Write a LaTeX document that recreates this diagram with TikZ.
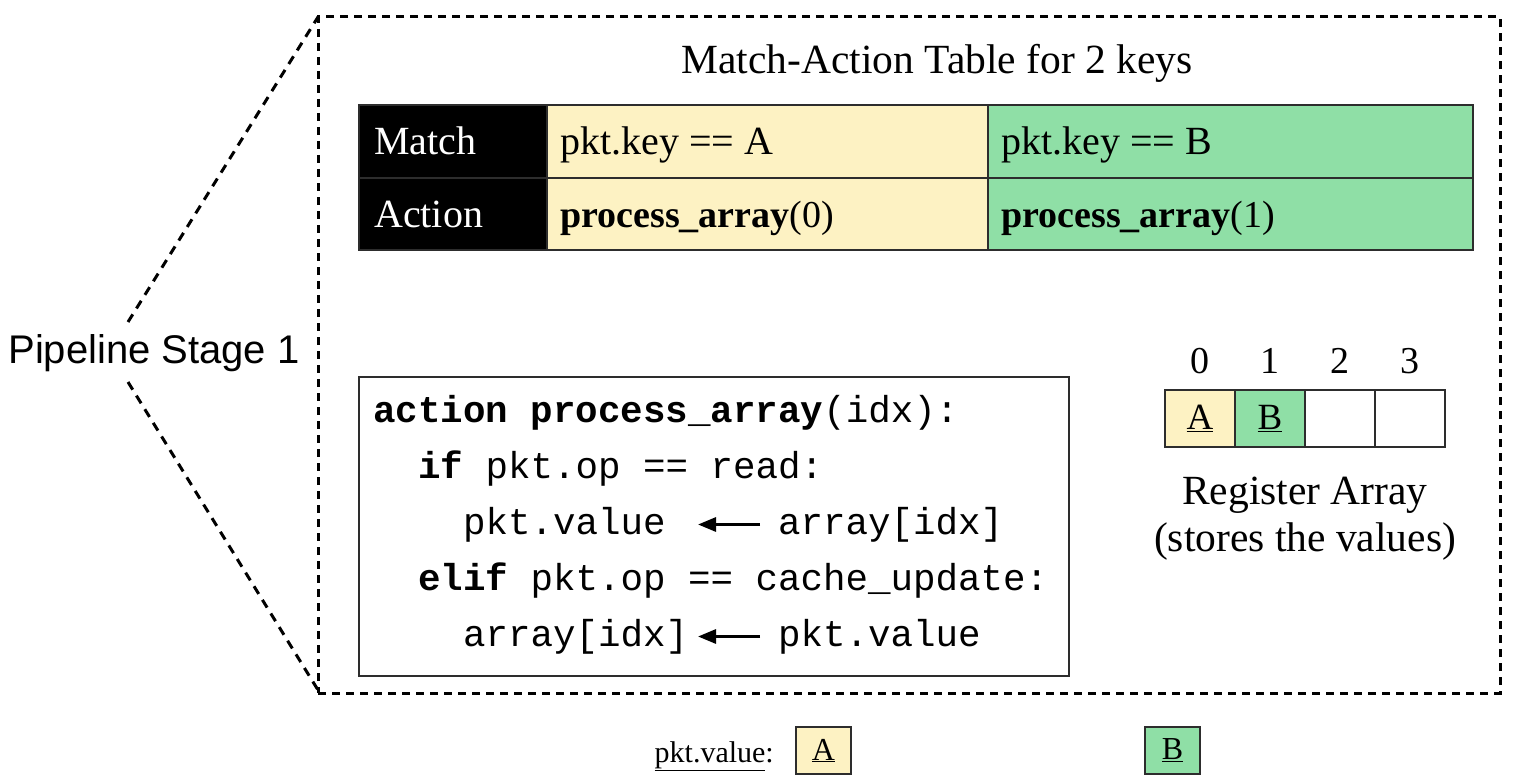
\documentclass[tikz,border=0pt]{standalone}
\usepackage{fontspec}
\setmainfont{Liberation Serif}
\newfontfamily\helv{Liberation Sans}
\newfontfamily\cour{Liberation Mono}
\usetikzlibrary{arrows.meta}
\definecolor{cellyellow}{RGB}{253,242,195}
\definecolor{cellgreen}{RGB}{143,223,166}
\definecolor{edgegray}{RGB}{45,45,45}
\begin{document}
\begin{tikzpicture}[x=1pt,y=-1pt,
  stagebox/.style={draw=black, line width=3pt, dash pattern=on 8pt off 6pt, minimum width=1182pt, minimum height=676pt, anchor=north west, inner sep=0pt, outer sep=0pt},
  diag/.style={line width=3pt, dash pattern=on 9pt off 7pt},
  tcell/.style={draw=edgegray, line width=2pt, minimum height=72.5pt, anchor=north west, inner sep=0pt, outer sep=0pt},
  tabtxt/.style={font=\fontsize{40}{48}\selectfont, anchor=base west, inner sep=0pt},
  acttxt/.style={font=\fontsize{38}{46}\selectfont, anchor=base west, inner sep=0pt},
  codebox/.style={draw=edgegray, line width=2pt, minimum width=710pt, minimum height=299pt, anchor=north west, inner sep=0pt, outer sep=0pt},
  codetxt/.style={font=\cour\fontsize{37.5}{45}\selectfont, anchor=base west, inner sep=0pt, text height=27pt, text depth=8pt},
  codearrow/.style={line width=3pt, -{Triangle[length=18pt,width=14pt]}},
  regcell/.style={draw=edgegray, line width=2pt, minimum width=70pt, minimum height=57pt, anchor=north west, inner sep=0pt, outer sep=0pt, font=\fontsize{37}{42}\selectfont},
  idxtxt/.style={font=\fontsize{38}{44}\selectfont, inner sep=0pt},
  bigtxt/.style={font=\fontsize{41.5}{49}\selectfont, inner sep=0pt},
  legbox/.style={draw=edgegray, line width=2pt, minimum width=55pt, minimum height=47pt, anchor=north west, inner sep=0pt, outer sep=0pt, font=\fontsize{32}{34}\selectfont}
]
\useasboundingbox (0,0) rectangle (1520,776);

% pipeline stage label and outer box
\node[font=\helv\fontsize{40}{48}\selectfont, inner sep=0pt] (pl) at (154,353) {Pipeline Stage 1};
\node[stagebox] (stage) at (318,17) {};
\coordinate (d1) at (128,322);
\coordinate (d2) at (128,382);
\draw[diag] (d1) -- (stage.north west);
\draw[diag] (d2) -- ([yshift=3pt]stage.south west);

% title
\node[bigtxt] (title) at (937,63) {Match-Action Table for 2 keys};

% table
\node[tcell, fill=black, minimum width=188pt] (m0) at (359,105) {};
\node[tcell, fill=black, minimum width=188pt] (a0) at (359,177.5) {};
\node[tcell, fill=cellyellow, minimum width=441pt] (m1) at (547,105) {};
\node[tcell, fill=cellyellow, minimum width=441pt] (a1) at (547,177.5) {};
\node[tcell, fill=cellgreen, minimum width=485pt] (m2) at (988,105) {};
\node[tcell, fill=cellgreen, minimum width=485pt] (a2) at (988,177.5) {};
\node[tabtxt, text=white] (tm0) at ([xshift=15pt,yshift=-13.5pt]m0.west) {Match};
\node[tabtxt, text=white] (ta0) at ([xshift=15pt,yshift=-13.5pt]a0.west) {Action};
\node[tabtxt] (tm1) at ([xshift=13pt,yshift=-13.5pt]m1.west) {pkt.key == A};
\node[acttxt] (ta1) at ([xshift=13pt,yshift=-13.5pt]a1.west) {\textbf{process\_array}(0)};
\node[tabtxt] (tm2) at ([xshift=13pt,yshift=-13.5pt]m2.west) {pkt.key == B};
\node[acttxt] (ta2) at ([xshift=13pt,yshift=-13.5pt]a2.west) {\textbf{process\_array}(1)};

% code box
\node[codebox] (code) at (359,377) {};
\node[codetxt] (c1) at (373,422) {\textbf{action process\_array}(idx):};
\node[codetxt] (c2) at (418,478) {\textbf{if} pkt.op == read:};
\node[codetxt] (c3a) at (463,534) {pkt.value};
\node[codetxt] (c3b) at (778,534) {array[idx]};
\node[codetxt] (c4) at (418,590) {\textbf{elif} pkt.op == cache\_update:};
\node[codetxt] (c5a) at (463,646) {array[idx]};
\node[codetxt] (c5b) at (778,646) {pkt.value};
\draw[codearrow] ([xshift=-18pt]c3b.west) -- ++(-62,0);
\draw[codearrow] ([xshift=-18pt]c5b.west) -- ++(-62,0);

% register array
\node[regcell, fill=cellyellow] (r0) at (1165,390) {\underline{A}};
\node[regcell, fill=cellgreen] (r1) at (1235,390) {\underline{B}};
\node[regcell] (r2) at (1305,390) {};
\node[regcell] (r3) at (1375,390) {};
\node[idxtxt] (i0) at (1200,361) {0};
\node[idxtxt] (i1) at (1270,361) {1};
\node[idxtxt] (i2) at (1340,361) {2};
\node[idxtxt] (i3) at (1410,361) {3};
\node[bigtxt, align=center] (reglab) at (1305,519) {Register Array\\[-2pt](stores the values)};

% legend
\node[font=\fontsize{30}{34}\selectfont, inner sep=0pt, anchor=base east] (pv) at (774,762) {\underline{pkt.value}:};
\node[legbox, fill=cellyellow] (la) at (796,727) {\underline{A}};
\node[legbox, fill=cellgreen] (lb) at (1145,727) {\underline{B}};
\end{tikzpicture}
\end{document}
